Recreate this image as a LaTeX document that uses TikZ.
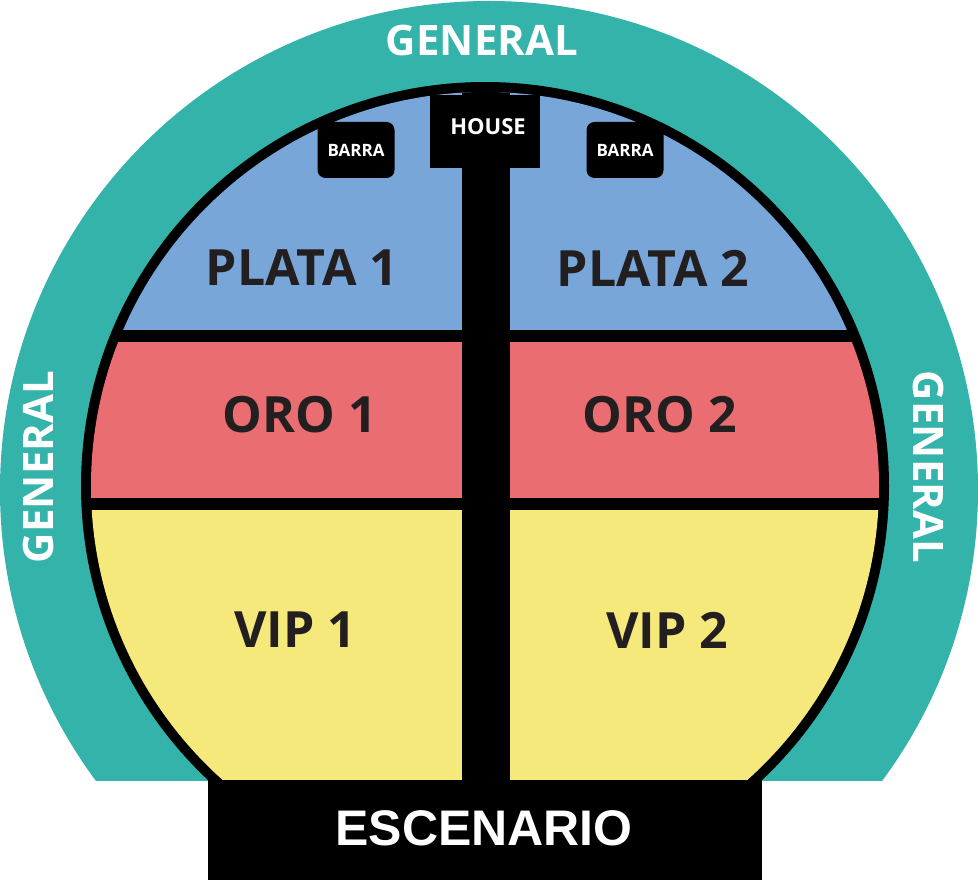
\documentclass[tikz,border=0pt]{standalone}
\usepackage{fontspec}
\setmainfont{Open Sans}
\newfontfamily\arialb{Liberation Sans}
\definecolor{teal}{HTML}{33B3A9}
\definecolor{plata}{HTML}{78A6D8}
\definecolor{oro}{HTML}{EA6E71}
\definecolor{vip}{HTML}{F6E97C}
\definecolor{ink}{HTML}{231F20}
\begin{document}
\begin{tikzpicture}[x=1pt,y=-1pt,
  zone/.style={font=\bfseries\fontsize{50}{50}\selectfont,text=ink},
  gen/.style={font=\bfseries\fontsize{42}{42}\selectfont,text=white},
  barra/.style={fill=black,rounded corners=8pt,minimum width=77pt,minimum height=56pt,font=\bfseries\fontsize{17}{17}\selectfont,text=white}]
\useasboundingbox (0,0) rectangle (978,880);
\begin{scope}
\clip (0,0) rectangle (978,780);
\fill[teal] (489,490) circle (489);
\end{scope}
\fill[black] (485,486) circle (404);
\begin{scope}
\clip (485,486) circle (394);
\fill[plata] (0,0) rectangle (978,330);
\fill[oro] (0,342) rectangle (978,498);
\fill[vip] (0,510) rectangle (978,880);
\fill[black] (462,0) rectangle (510,880);
\end{scope}
\fill[black] (430,95) rectangle (540,168);
\node[text=white,font=\bfseries\fontsize{22}{22}\selectfont] (house) at (488,127) {HOUSE};
\node[barra] (b1) at (356,150) {BARRA};
\node[barra] (b2) at (625,150) {BARRA};
\node[zone] (p1) at (302,268) {PLATA 1};
\node[zone] (p2) at (653,268) {PLATA 2};
\node[zone] (o1) at (300,415) {ORO 1};
\node[zone] (o2) at (660,415) {ORO 2};
\node[zone] (v1) at (295,630) {VIP 1};
\node[zone] (v2) at (667,630) {VIP 2};
\node[gen] (g1) at (482,40) {GENERAL};
\node[gen,rotate=90] (g2) at (38,467) {GENERAL};
\node[gen,rotate=-90] (g3) at (928,467) {GENERAL};
\fill[black] (208,780) rectangle (762,880);
\node[text=white,font=\arialb\bfseries\fontsize{50}{50}\selectfont] (esc) at (484,828) {ESCENARIO};
\end{tikzpicture}
\end{document}
